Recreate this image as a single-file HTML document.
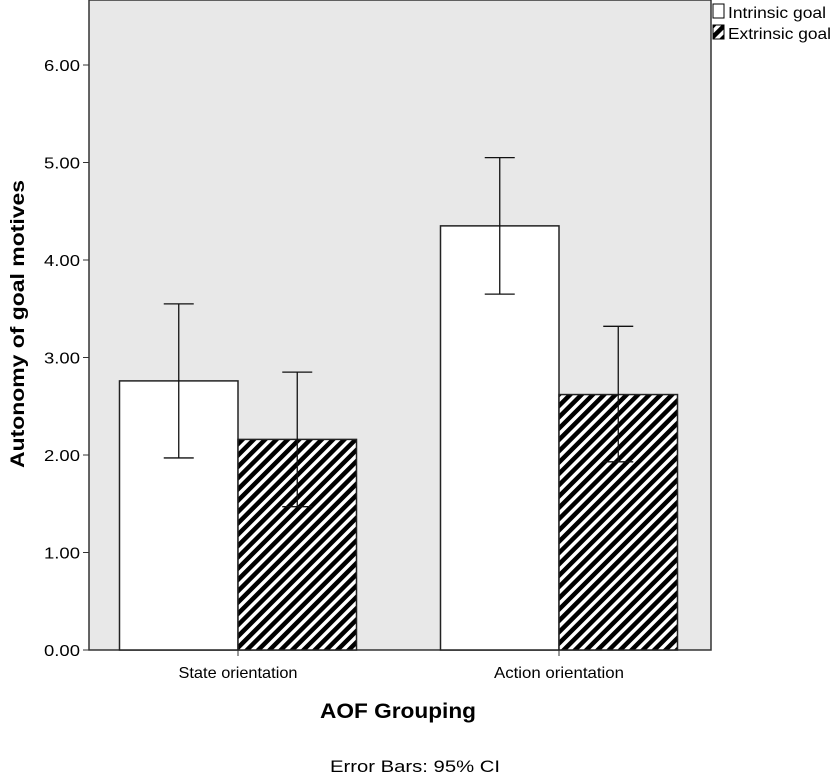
<!DOCTYPE html>
<html><head><meta charset="utf-8"><style>
body{margin:0;background:#fff;width:833px;height:777px;overflow:hidden}
text{font-family:"Liberation Sans",sans-serif}
</style></head><body>
<svg id="chart" width="833" height="777">
<defs>
<pattern id="hatch" patternUnits="userSpaceOnUse" width="8" height="8" patternTransform="rotate(45)">
<rect width="8" height="8" fill="#fff"/><rect width="4.5" height="8" fill="#000"/>
</pattern>
</defs>
<rect x="89" y="0" width="622" height="650" fill="#e8e8e8" stroke="#333" stroke-width="1.5"/>
<g id="yaxis"></g><g id="bars"></g>
<text x="24" y="324" font-size="19" font-weight="bold" text-anchor="middle" textLength="288" lengthAdjust="spacingAndGlyphs" transform="rotate(-90 24 324)">Autonomy of goal motives</text>
<text x="398" y="718" font-size="21" font-weight="bold" text-anchor="middle" textLength="156" lengthAdjust="spacingAndGlyphs">AOF Grouping</text>
<text x="415" y="772" font-size="17" text-anchor="middle" textLength="170" lengthAdjust="spacingAndGlyphs">Error Bars: 95% CI</text>
<g>
<rect x="713" y="4" width="11" height="14" fill="#fff" stroke="#000"/>
<text x="728" y="18" font-size="16" textLength="98" lengthAdjust="spacingAndGlyphs">Intrinsic goal</text>
<rect x="713" y="25" width="11" height="14" fill="url(#hatch)" stroke="#000"/>
<text x="728" y="39" font-size="16" textLength="103" lengthAdjust="spacingAndGlyphs">Extrinsic goal</text>
</g>
</svg>
<script>
const categories=["State orientation","Action orientation"];
const intrinsic=[2.76,4.35];
const extrinsic=[2.16,2.62];
const intrinsicLo=[1.97,3.65];
const intrinsicHi=[3.55,5.05];
const extrinsicLo=[1.47,1.93];
const extrinsicHi=[2.85,3.32];
const yTicks=[0,1,2,3,4,5,6];
const NS="http://www.w3.org/2000/svg";
const y=v=>650-v*97.5;
const xc=i=>238+i*321;
const bw=118.5;
function mk(t,a,p){const e=document.createElementNS(NS,t);for(const k in a)e.setAttribute(k,a[k]);p.appendChild(e);return e;}
const ya=document.getElementById('yaxis');
yTicks.forEach(t=>{
 const l=mk('line',{x1:83,x2:89,y1:y(t),y2:y(t),stroke:'#333'},ya);
 
 
 const tx=mk('text',{x:80,y:y(t)+6,'font-size':16,'text-anchor':'end',textLength:36,lengthAdjust:'spacingAndGlyphs'},ya);
 tx.textContent=t.toFixed(2);
 
 
});
const g=document.getElementById('bars');
categories.forEach((c,i)=>{
 const b1=mk('rect',{x:xc(i)-bw,y:y(intrinsic[i]),width:bw,height:y(0)-y(intrinsic[i]),fill:'#fff',stroke:'#222','stroke-width':1.5},g);
 
 
 const b2=mk('rect',{x:xc(i),y:y(extrinsic[i]),width:bw,height:y(0)-y(extrinsic[i]),fill:'url(#hatch)',stroke:'#222','stroke-width':1.5},g);
 
 
 [[xc(i)-bw/2,intrinsicLo[i],intrinsicHi[i],'intrinsic'],[xc(i)+bw/2,extrinsicLo[i],extrinsicHi[i],'extrinsic']].forEach(([x,lo,hi,n])=>{
  const eg=mk('g',{stroke:'#111','stroke-width':1.3},g);
  
  
  mk('line',{x1:x,x2:x,y1:y(lo),y2:y(hi)},eg);
  mk('line',{x1:x-15,x2:x+15,y1:y(lo),y2:y(lo)},eg);
  mk('line',{x1:x-15,x2:x+15,y1:y(hi),y2:y(hi)},eg);
 });
 const tk=mk('line',{x1:xc(i),x2:xc(i),y1:650,y2:656,stroke:'#333'},g);
 
 
 const lb=mk('text',{x:xc(i),y:678,'font-size':16,'text-anchor':'middle',textLength:i==0?119:130,lengthAdjust:'spacingAndGlyphs'},g);
 lb.textContent=c;
 
 
});
</script>
</body></html>
